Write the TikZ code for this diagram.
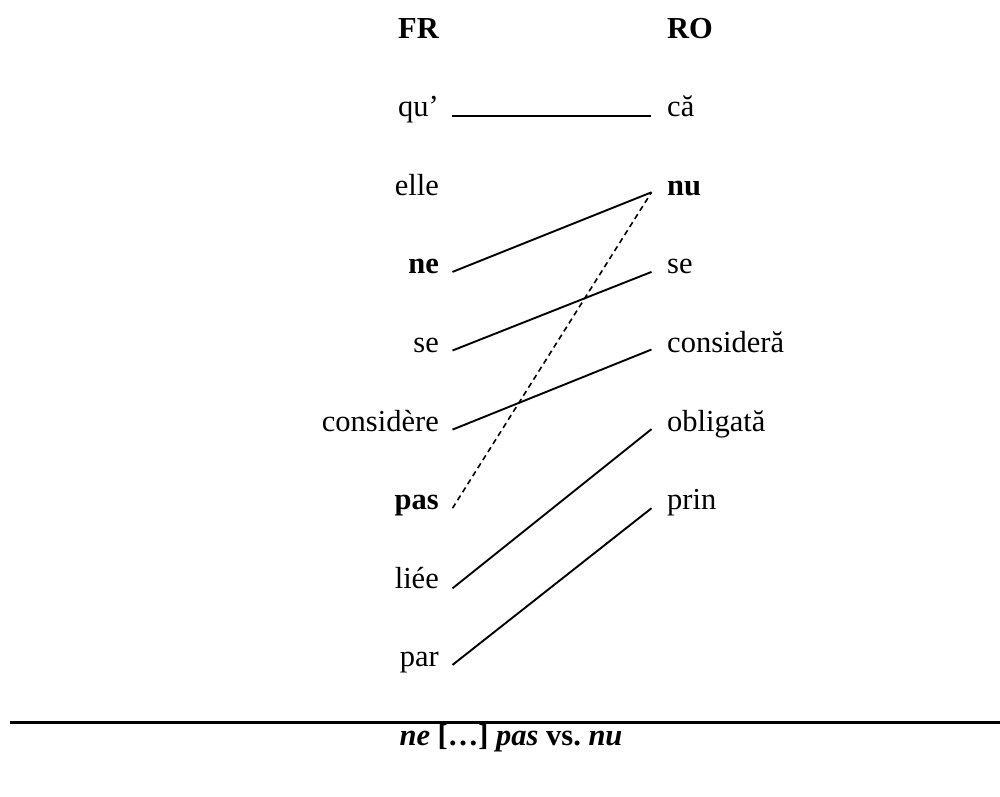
\documentclass[tikz,border=0pt]{standalone}
\usepackage{fontspec}
\setmainfont{Liberation Serif}
\begin{document}
\begin{tikzpicture}[x=1pt,y=-1pt,
  word/.style={inner sep=0pt,font=\fontsize{30.5}{36}\selectfont},
  bword/.style={inner sep=0pt,font=\fontsize{30.5}{36}\selectfont\bfseries},
  lw/.style={anchor=base east},
  rw/.style={anchor=base west},
  link/.style={line width=1.9pt},
  dlink/.style={line width=1.6pt,dash pattern=on 5.5pt off 4pt}]
\useasboundingbox (0,0) rectangle (1000,796);
% headings
\node[bword,lw] (fr) at (439,38.3) {FR};
\node[bword,rw] (ro) at (667,38.3) {RO};
% French column
\node[word,lw] (l1) at (439,116.7) {qu’};
\node[word,lw] (l2) at (439,195.3) {elle};
\node[bword,lw] (l3) at (439,273.9) {ne};
\node[word,lw] (l4) at (439,352.5) {se};
\node[word,lw] (l5) at (439,431.1) {considère};
\node[bword,lw] (l6) at (439,509.7) {pas};
\node[word,lw] (l7) at (439,588.3) {liée};
\node[word,lw] (l8) at (439,666.9) {par};
% Romanian column
\node[word,rw] (r1) at (667,116.7) {că};
\node[bword,rw] (r2) at (667,195.3) {nu};
\node[word,rw] (r3) at (667,273.9) {se};
\node[word,rw] (r4) at (667,352.5) {consideră};
\node[word,rw] (r5) at (667,431.1) {obligată};
\node[word,rw] (r6) at (667,509.7) {prin};
% links
\draw[link] ([shift={(13,-1)}]l1.base east) -- ([shift={(-16,-1)}]r1.base west);
\draw[link] ([shift={(13.5,-2)}]l3.base east) -- ([shift={(-15.5,-3)}]r2.base west);
\draw[link] ([shift={(13.5,-2)}]l4.base east) -- ([shift={(-15.5,-2)}]r3.base west);
\draw[link] ([shift={(13.5,-1.5)}]l5.base east) -- ([shift={(-15.5,-3)}]r4.base west);
\draw[dlink] ([shift={(13.5,-1.5)}]l6.base east) -- ([shift={(-15.5,-3)}]r2.base west);
\draw[link] ([shift={(13.5,0)}]l7.base east) -- ([shift={(-15.5,-2)}]r5.base west);
\draw[link] ([shift={(13.5,-2)}]l8.base east) -- ([shift={(-15.5,-1.5)}]r6.base west);
% caption
\coordinate (rs) at (10,722.5);
\coordinate (re) at (1000,722.5);
\draw[line width=2.6pt] (rs) -- (re);
\node[word,anchor=base] (cap) at (511,745.5) {\bfseries\textit{ne} […] \textit{pas} vs.\ \textit{nu}};
\end{tikzpicture}
\end{document}
